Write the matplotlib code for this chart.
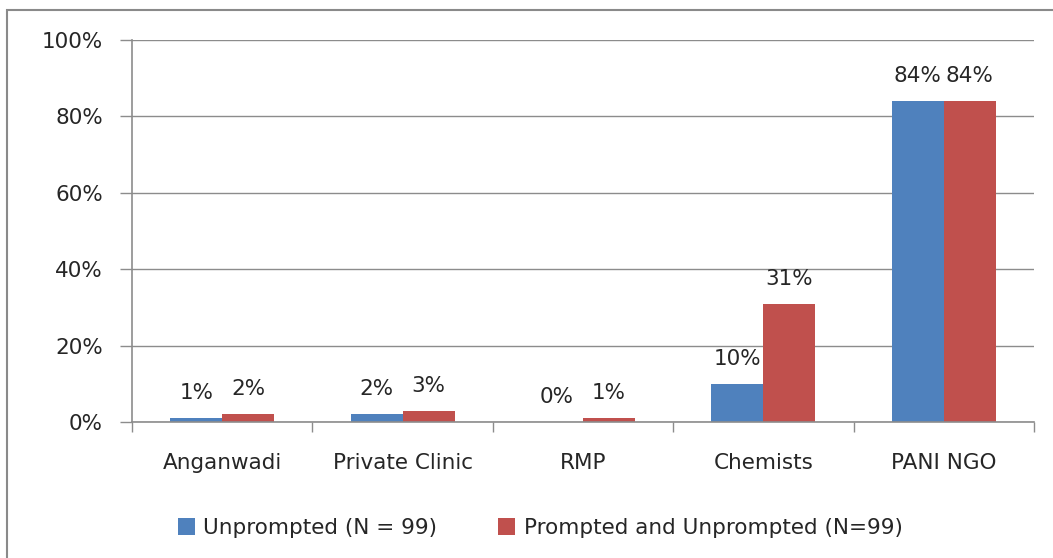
import numpy as np
import matplotlib.pyplot as plt
from matplotlib.patches import Rectangle

# --- Data ---
categories = ['Anganwadi', 'Private Clinic', 'RMP', 'Chemists', 'PANI NGO']
unprompted = [1, 2, 0, 10, 84]
prompted = [2, 3, 1, 31, 84]
series_names = ['Unprompted (N = 99)', 'Prompted and Unprompted (N=99)']
y_ticks = [0, 20, 40, 60, 80, 100]

blue = '#4F81BD'
red = '#C0504D'
grid_col = '#8c8c8c'
txt_col = '#262626'
fs = 15.5

plt.rcParams['font.family'] = ['DejaVu Sans']

fig = plt.figure(figsize=(10.53, 5.58), dpi=100)
ax = fig.add_axes([132 / 1053, 136 / 558, 902 / 1053, 382 / 558])

# outer chart border (only top and left visible in the reference)
fig.patches.append(Rectangle((7 / 1053, -0.1), 1.2, (548 / 558) + 0.1,
                             transform=fig.transFigure, fill=False,
                             edgecolor='#8a8a8a', linewidth=1.5))

x = np.arange(len(categories))
w = 0.288
b1 = ax.bar(x - w / 2, unprompted, w, color=blue, label=series_names[0])
b2 = ax.bar(x + w / 2, prompted, w, color=red, label=series_names[1])

for bars, vals in [(b1, unprompted), (b2, prompted)]:
    for rect, v in zip(bars, vals):
        ax.text(rect.get_x() + rect.get_width() / 2, v + 3.9, f'{v}%',
                ha='center', va='bottom', fontsize=fs, color=txt_col)

ax.set_xlim(-0.5, len(categories) - 0.5)
ax.set_ylim(0, 100)
ax.set_yticks(y_ticks)
ax.set_yticklabels([f'{t}%' for t in y_ticks], fontsize=fs, color=txt_col)
ax.yaxis.grid(True, color=grid_col, linewidth=1)
ax.set_axisbelow(True)

# category ticks at group boundaries, labels in centres
ax.set_xticks(np.arange(len(categories) + 1) - 0.5)
ax.set_xticklabels([])
ax.set_xticks(x, minor=True)
ax.set_xticklabels(categories, minor=True, fontsize=fs, color=txt_col)
ax.tick_params(axis='x', which='minor', length=0, pad=22)
ax.tick_params(axis='x', which='major', length=7, color=grid_col, width=1)
ax.tick_params(axis='y', length=9, color=grid_col, width=1, pad=12)

for s in ['top', 'right']:
    ax.spines[s].set_visible(False)
for s in ['left', 'bottom']:
    ax.spines[s].set_color(grid_col)
    ax.spines[s].set_linewidth(1.2)

ax.legend(loc='center', bbox_to_anchor=(540 / 1053, 30 / 558),
          bbox_transform=fig.transFigure, ncol=2, frameon=False,
          fontsize=fs, handlelength=0.8, handleheight=0.8,
          columnspacing=2.8, handletextpad=0.4, labelcolor=txt_col)

fig.savefig('out.png', dpi=100)
